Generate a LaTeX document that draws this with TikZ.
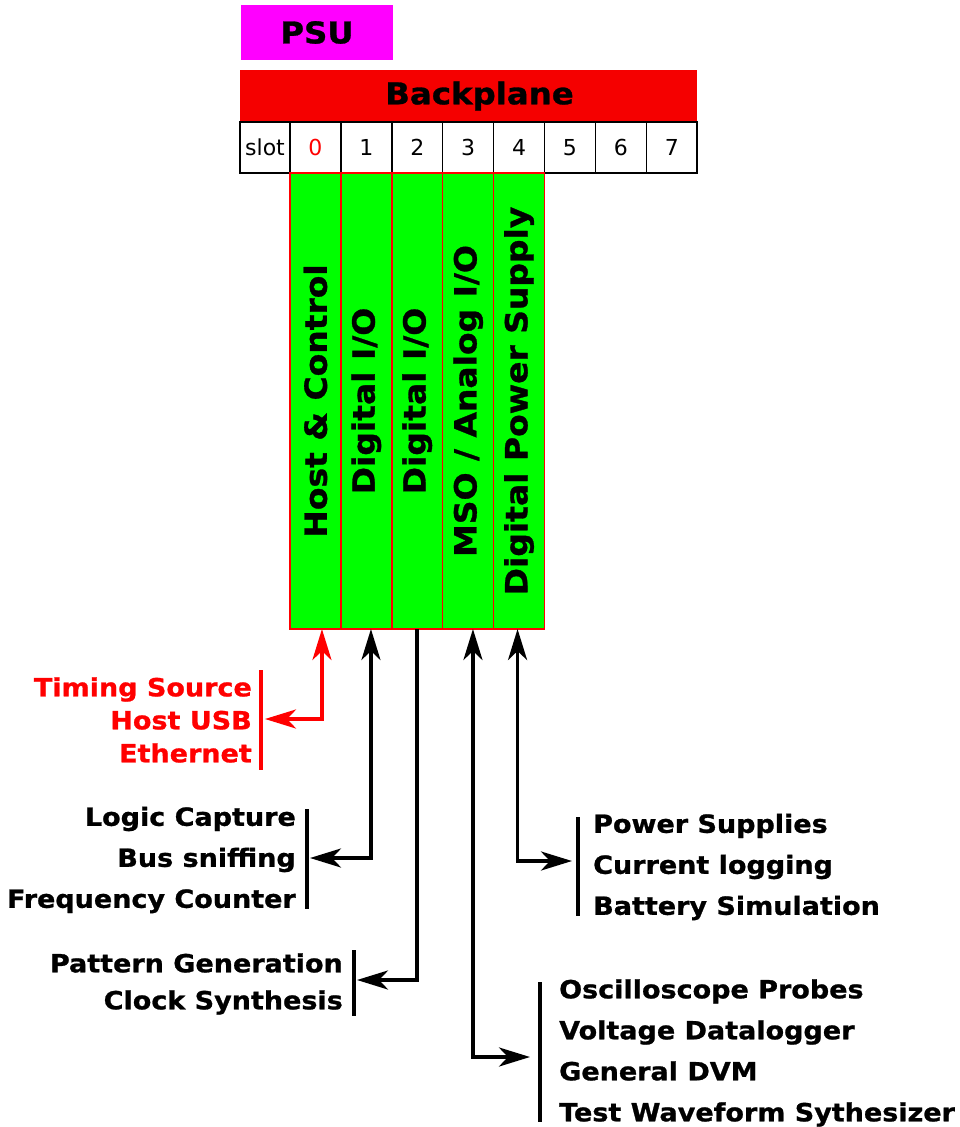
\documentclass[tikz,border=0pt]{standalone}
\usepackage{fontspec}
\setmainfont{DejaVu Sans}
\newfontfamily\widesans[FakeStretch=1.08,FakeBold=1]{DejaVu Sans}
\usetikzlibrary{arrows.meta,positioning}
\definecolor{psumag}{RGB}{255,0,255}
\definecolor{bpred}{RGB}{245,0,0}
\definecolor{cardgreen}{RGB}{0,255,0}
\tikzset{>/.tip={Stealth[length=31pt,width=19pt,inset=9pt]}}
\tikzset{
  plate/.style={inner sep=0pt, minimum height=55pt, font=\widesans\fontsize{30}{36}\selectfont\bfseries},
  slotcell/.style={draw=black, line width=1.5pt, outer sep=0pt, inner sep=0pt,
    minimum width=50.9pt, minimum height=51pt, font=\fontsize{22}{26}\selectfont},
  card/.style={draw=red, line width=1.5pt, fill=cardgreen, outer sep=0pt, inner sep=0pt,
    minimum width=50.9pt, minimum height=456pt, font=\widesans\fontsize{30.5}{36}\selectfont\bfseries},
  wire/.style={line width=3.8pt},
  lbl/.style={inner sep=3pt, font=\widesans\bfseries\fontsize{25}{#1}\selectfont},
  lbl/.default=41
}

\begin{document}
\begin{tikzpicture}[x=1pt,y=-1pt]
\useasboundingbox (0,0) rectangle (959,1127);

% power supply and backplane
\node[plate, fill=psumag, minimum width=152pt] (psu) at (317,32.5) {PSU};
\node[plate, fill=bpred, minimum width=457pt, minimum height=52pt] (bp) at (468.5,96) {\hspace*{22pt}Backplane};

% slot numbers
\node[slotcell, minimum width=50pt] (slot) at (265,147.5) {slot};
\node[slotcell, text=red] (s0) at (315.45,147.5) {0};
\foreach \i in {1,...,7}
  \node[slotcell] (s\i) at (315.45+50.9*\i,147.5) {\i};

% cards in the slots
\node[card, below=0pt of s0] (c0) {\rotatebox{90}{Host \& Control}};
\node[card, below=0pt of s1] (c1) {\rotatebox{90}{Digital I/O}};
\node[card, below=0pt of s2] (c2) {\rotatebox{90}{Digital I/O}};
\node[card, below=0pt of s3] (c3) {\rotatebox{90}{MSO / Analog I/O}};
\node[card, below=0pt of s4] (c4) {\rotatebox{90}{Digital Power Supply}};

% what each card talks to
\node[lbl=33, text=red, align=right, anchor=east] (host) at (255,720) {Timing Source\\Host USB\\Ethernet};
\node[lbl, align=right, anchor=east] (dio) at (299,860) {Logic Capture\\Bus sniffing\\Frequency Counter};
\node[lbl=37, align=right, anchor=east] (pat) at (346,984) {Pattern Generation\\Clock Synthesis};
\node[lbl, align=left, anchor=west] (pwr) at (590,867) {Power Supplies\\Current logging\\Battery Simulation};
\node[lbl=41, align=left, anchor=west] (mso) at (556,1053) {Oscilloscope Probes\\Voltage Datalogger\\General DVM\\Test Waveform Sythesizer};

% brackets
\draw[wire, red] ([shift={(6,-50)}]host.east) -- ([shift={(6,50)}]host.east);
\draw[wire] ([shift={(8,-51)}]dio.east) -- ([shift={(8,49)}]dio.east);
\draw[wire] ([shift={(8,-34)}]pat.east) -- ([shift={(8,32)}]pat.east);
\draw[wire] ([shift={(-12,-50)}]pwr.west) -- ([shift={(-12,49)}]pwr.west);
\draw[wire] ([shift={(-16,-71)}]mso.west) -- ([shift={(-16,69)}]mso.west);

% connections
\draw[wire, red, <->] ([xshift=6.5pt]c0.south) |- ([shift={(10,-1)}]host.east);
\draw[wire, <->] ([xshift=4.6pt]c1.south) |- ([shift={(11,-2)}]dio.east);
\draw[wire, ->] (c2.south) |- ([shift={(11,-4)}]pat.east);
\draw[wire, <->] ([xshift=4.8pt]c3.south) |- ([shift={(-26,4)}]mso.west);
\draw[wire, <->] ([xshift=-1.5pt]c4.south) |- ([shift={(-18,-6)}]pwr.west);
\end{tikzpicture}
\end{document}
